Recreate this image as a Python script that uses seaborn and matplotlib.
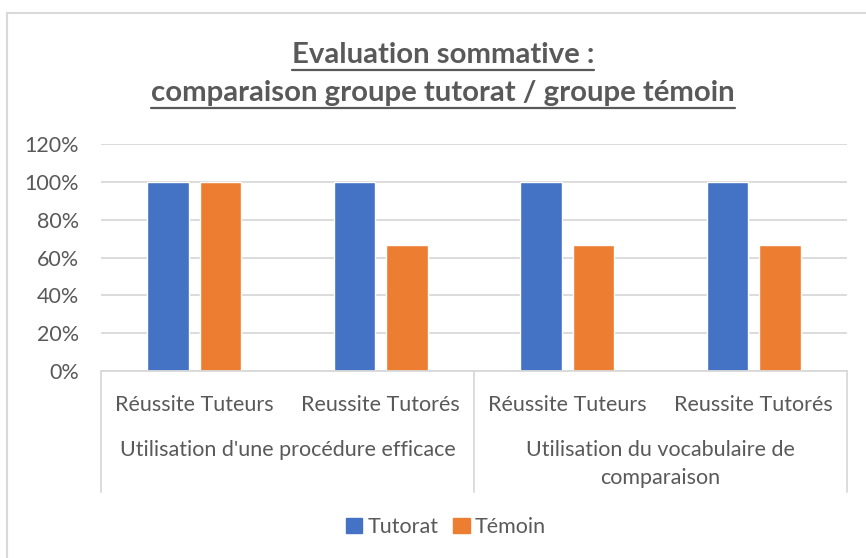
import matplotlib
matplotlib.use("Agg")
import matplotlib.pyplot as plt
import seaborn as sns
import pandas as pd
from matplotlib.lines import Line2D
from matplotlib.patches import Rectangle

# ---- data ----
categories = ["Réussite Tuteurs", "Reussite Tutorés", "Réussite Tuteurs", "Reussite Tutorés"]
groups = ["Utilisation d'une procédure efficace", "Utilisation du vocabulaire de\ncomparaison"]
series_names = ["Tutorat", "Témoin"]
tutorat = [1.0, 1.0, 1.0, 1.0]
temoin = [1.0, 0.667, 0.667, 0.667]
yticks = [0, 0.2, 0.4, 0.6, 0.8, 1.0, 1.2]
title = "Evaluation sommative :\ncomparaison groupe tutorat / groupe témoin"

colors = ["#4472C4", "#ED7D31"]
txt = "#595959"
grid = "#D9D9D9"
FS = 15.5
TFS = 21.2

rows = []
for i in range(len(categories)):
    rows.append({"slot": str(i), "serie": series_names[0], "val": tutorat[i]})
    rows.append({"slot": str(i), "serie": series_names[1], "val": temoin[i]})
df = pd.DataFrame(rows)

sns.set_theme(style="white")
plt.rcParams["font.family"] = ["Lato", "DejaVu Sans"]

W, H = 866, 558
fig = plt.figure(figsize=(W / 100, H / 100), dpi=100)
ax = fig.add_axes([101 / W, 1 - 371 / H, (847 - 101) / W, (371 - 144) / H])

sns.barplot(data=df, x="slot", y="val", hue="serie", palette=colors,
            order=[str(i) for i in range(4)], hue_order=series_names,
            width=0.565, gap=0.208, ax=ax, legend=False, saturation=1)

ax.set_ylim(0, 1.2)
ax.set_xlim(-0.5, 3.5)
ax.set_yticks(yticks)
ax.set_yticklabels([f"{int(round(v*100))}%" for v in yticks], color=txt, fontsize=FS)
ax.set_xticks(range(4))
ax.set_xticklabels(categories, color=txt, fontsize=FS)
ax.tick_params(axis="x", length=0, pad=17)
ax.tick_params(axis="y", length=0, pad=16)
ax.set_xlabel("")
ax.set_ylabel("")
ax.yaxis.grid(True, color=grid, linewidth=1.3)
ax.set_axisbelow(True)
for s in ["top", "right", "left"]:
    ax.spines[s].set_visible(False)
ax.spines["bottom"].set_color(grid)
ax.spines["bottom"].set_linewidth(1.3)

def fx(px):
    return px / W
def fy(py):
    return 1 - py / H

# group separators
for xpx in [101, 474, 847]:
    fig.add_artist(Line2D([fx(xpx), fx(xpx)], [fy(371), fy(492)], color=grid, linewidth=1.3))

fig.text(fx(287.5), fy(450), groups[0], ha="center", va="center", color=txt, fontsize=FS)
fig.text(fx(660.5), fy(464), groups[1], ha="center", va="center", color=txt, fontsize=FS,
         linespacing=1.5)

# title (two lines, each underlined)
fig.canvas.draw()
r = fig.canvas.get_renderer()
lines = title.split("\n")
ycent = [55, 93]
for ln, yc in zip(lines, ycent):
    tt = fig.text(fx(443), fy(yc), ln, ha="center", va="center", fontsize=TFS,
                  fontweight="bold", color=txt)
    bb = tt.get_window_extent(renderer=r)
    fig.add_artist(Line2D([bb.x0 / W, bb.x1 / W], [fy(yc + 15), fy(yc + 15)],
                          color=txt, linewidth=1.6))

# legend
handles = [Rectangle((0, 0), 1, 1, color=c) for c in colors]
fig.legend(handles, series_names, loc="center", bbox_to_anchor=(fx(446), fy(527)),
           ncol=2, frameon=False, fontsize=FS, handlelength=0.75, handleheight=0.75,
           handletextpad=0.25, columnspacing=0.7, labelcolor=txt)

# outer border
fig.add_artist(Rectangle((fx(7), fy(H + 5)), 1.2, fy(13) - fy(H + 5),
                         fill=False, edgecolor=grid, linewidth=1.5))

fig.savefig("out.png", dpi=100)
